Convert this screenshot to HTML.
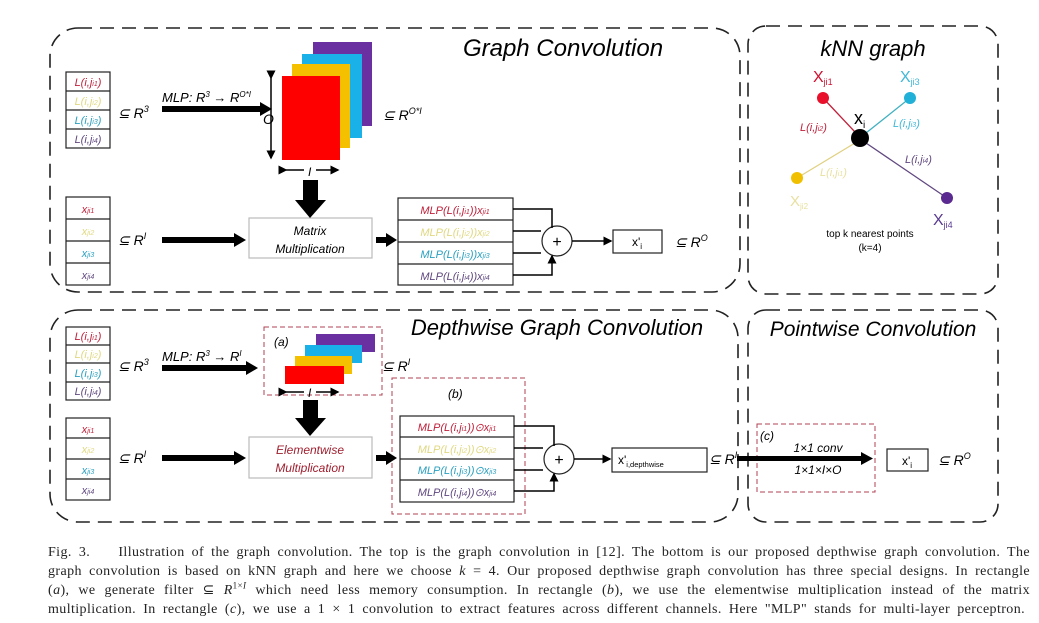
<!DOCTYPE html>
<html><head><meta charset="utf-8"><style>
body{margin:0;background:#fff;width:1039px;height:623px;overflow:hidden;position:relative;font-family:"Liberation Sans",sans-serif}
svg{position:absolute;left:0;top:0}
.cap{position:absolute;left:48px;top:543px;width:982px;font-family:"Liberation Serif",serif;font-size:14px;letter-spacing:0.4px;line-height:19px;color:#222;white-space:nowrap}
.cap div{text-align:justify;text-align-last:justify}
.cap div.l{width:977px}
</style></head><body>
<svg width="1039" height="623" font-family="Liberation Sans, sans-serif" font-style="italic">
<defs><marker id="sh" markerWidth="6" markerHeight="6" refX="5" refY="3" orient="auto"><path d="M0,0L6,3L0,6z" fill="#000"/></marker></defs>
<g fill="none" stroke="#222" stroke-width="1.6" stroke-dasharray="14,8">
<rect x="50" y="28" width="690" height="264" rx="28"/>
<rect x="748" y="26" width="250" height="268" rx="18"/>
<rect x="50" y="310" width="688" height="212" rx="28"/>
<rect x="748" y="310" width="250" height="212" rx="18"/>
</g>
<text x="563" y="56" font-size="24" text-anchor="middle">Graph Convolution</text>
<text x="873" y="56" font-size="22" text-anchor="middle">kNN graph</text>
<text x="557" y="335" font-size="22" text-anchor="middle">Depthwise Graph Convolution</text>
<text x="873" y="336" font-size="21" text-anchor="middle">Pointwise Convolution</text>
<g stroke="#222" stroke-width="1.2" fill="none">
<rect x="66" y="72" width="44" height="76"/><line x1="66" y1="91" x2="110" y2="91"/><line x1="66" y1="110" x2="110" y2="110"/><line x1="66" y1="129" x2="110" y2="129"/>
<rect x="66" y="197" width="44" height="88"/><line x1="66" y1="219" x2="110" y2="219"/><line x1="66" y1="241" x2="110" y2="241"/><line x1="66" y1="263" x2="110" y2="263"/>
<rect x="249" y="218" width="123" height="40" stroke="#bbb"/>
<rect x="398" y="198" width="115" height="87"/><line x1="398" y1="220" x2="513" y2="220"/><line x1="398" y1="242" x2="513" y2="242"/><line x1="398" y1="264" x2="513" y2="264"/>
<circle cx="557" cy="241" r="15"/>
<rect x="613" y="230" width="49" height="23"/>
</g>
<g font-size="11" text-anchor="middle">
<text x="88" y="86" fill="#c0203a">L(i,j<tspan font-size="7">i1</tspan>)</text>
<text x="88" y="105" fill="#e0d880">L(i,j<tspan font-size="7">i2</tspan>)</text>
<text x="88" y="124" fill="#2aa0c0">L(i,j<tspan font-size="7">i3</tspan>)</text>
<text x="88" y="143" fill="#604880">L(i,j<tspan font-size="7">i4</tspan>)</text>
<text x="88" y="213" fill="#c0203a">x<tspan font-size="7">ji1</tspan></text>
<text x="88" y="235" fill="#e0d880">x<tspan font-size="7">ji2</tspan></text>
<text x="88" y="257" fill="#2aa0c0">x<tspan font-size="7">ji3</tspan></text>
<text x="88" y="279" fill="#604880">x<tspan font-size="7">ji4</tspan></text>
<text x="455" y="214" fill="#c0203a">MLP(L(i,j<tspan font-size="7">i1</tspan>))x<tspan font-size="7">ji1</tspan></text>
<text x="455" y="236" fill="#e0d880">MLP(L(i,j<tspan font-size="7">i2</tspan>))x<tspan font-size="7">ji2</tspan></text>
<text x="455" y="258" fill="#2aa0c0">MLP(L(i,j<tspan font-size="7">i3</tspan>))x<tspan font-size="7">ji3</tspan></text>
<text x="455" y="280" fill="#604880">MLP(L(i,j<tspan font-size="7">i4</tspan>))x<tspan font-size="7">ji4</tspan></text>
<text x="310" y="235" font-size="12">Matrix</text>
<text x="310" y="253" font-size="12">Multiplication</text>
</g>
<g font-size="14">
<text x="118" y="118">⊆ R<tspan font-size="9" dy="-6">3</tspan></text>
<text x="118" y="245">⊆ R<tspan font-size="9" dy="-6">I</tspan></text>
<text x="383" y="120">⊆ R<tspan font-size="9" dy="-6">O*I</tspan></text>
<text x="675" y="247">⊆ R<tspan font-size="9" dy="-6">O</tspan></text>
<text x="162" y="102" font-size="13">MLP: R<tspan font-size="8" dy="-5">3</tspan><tspan dy="5"> → R</tspan><tspan font-size="8" dy="-5">O*I</tspan></text>
<text x="263" y="124">O</text>
<text x="308" y="176" font-size="12">I</text>
<text x="637" y="246" font-size="12" text-anchor="middle" font-style="normal">x'<tspan font-size="8" dy="3">i</tspan></text>
</g>
<rect x="313" y="42" width="59" height="84" fill="#6a2fa0"/>
<rect x="302" y="54" width="60" height="84" fill="#1ab0e8"/>
<rect x="292" y="64" width="58" height="84" fill="#f5c000"/>
<rect x="282" y="76" width="58" height="84" fill="#ff0000"/>
<g stroke="#000" stroke-width="1.5" fill="none">
<line x1="271" y1="78" x2="271" y2="158" marker-start="url(#sh)" marker-end="url(#sh)"/>
<line x1="286" y1="170" x2="304" y2="170" marker-start="url(#sh)"/><line x1="316" y1="170" x2="338" y2="170" marker-end="url(#sh)"/>
<path d="M513,209H552V228M513,231H541M513,253H541M513,275H552V256" marker-end="url(#sh)"/>
<line x1="572" y1="241" x2="611" y2="241" marker-end="url(#sh)"/>
</g>
<text x="557" y="247" font-size="16" text-anchor="middle" font-style="normal">+</text>
<g fill="#000">
<rect x="162" y="106" width="100" height="6"/><path d="M260,102L272,109L260,116z"/>
<rect x="162" y="237" width="74" height="6"/><path d="M234,233L246,240L234,247z"/>
<rect x="376" y="237" width="12" height="6"/><path d="M386,233L397,240L386,247z"/>
<rect x="303" y="180" width="15" height="22"/><path d="M295,200H326L310,218z"/>
</g>
<g stroke-width="1.3">
<line x1="823" y1="98" x2="855" y2="132" stroke="#c0203a"/>
<line x1="910" y1="98" x2="866" y2="133" stroke="#40b0c0"/>
<line x1="797" y1="178" x2="855" y2="143" stroke="#e0d080"/>
<line x1="947" y1="198" x2="866" y2="143" stroke="#604880"/>
</g>
<circle cx="823" cy="98" r="6" fill="#e8102a"/>
<circle cx="910" cy="98" r="6" fill="#20b0d8"/>
<circle cx="797" cy="178" r="6" fill="#f0c000"/>
<circle cx="947" cy="198" r="6" fill="#5a2a90"/>
<circle cx="860" cy="138" r="9" fill="#000"/>
<g font-style="normal">
<text x="813" y="82" font-size="16" fill="#d01030">X<tspan font-size="9" dy="3">ji1</tspan></text>
<text x="900" y="82" font-size="16" fill="#40b8d8">X<tspan font-size="9" dy="3">ji3</tspan></text>
<text x="854" y="124" font-size="18" fill="#000">x<tspan font-size="10" dy="4">i</tspan></text>
<text x="790" y="206" font-size="15" fill="#e8e0a0">X<tspan font-size="8" dy="3">ji2</tspan></text>
<text x="933" y="225" font-size="16" fill="#5a3a90">X<tspan font-size="9" dy="3">ji4</tspan></text>
<text x="870" y="237" font-size="10" text-anchor="middle">top k nearest points</text>
<text x="870" y="251" font-size="10" text-anchor="middle">(k=4)</text>
</g>
<g font-size="11">
<text x="800" y="131" fill="#c0203a">L(i,j<tspan font-size="7">i2</tspan>)</text>
<text x="893" y="127" fill="#40b8d8">L(i,j<tspan font-size="7">i3</tspan>)</text>
<text x="905" y="163" fill="#604880">L(i,j<tspan font-size="7">i4</tspan>)</text>
<text x="820" y="176" fill="#e8e0a0">L(i,j<tspan font-size="7">i1</tspan>)</text>
</g>
<g stroke="#222" stroke-width="1.2" fill="none">
<rect x="66" y="327" width="44" height="73"/><line x1="66" y1="345" x2="110" y2="345"/><line x1="66" y1="363" x2="110" y2="363"/><line x1="66" y1="382" x2="110" y2="382"/>
<rect x="66" y="418" width="44" height="82"/><line x1="66" y1="438" x2="110" y2="438"/><line x1="66" y1="459" x2="110" y2="459"/><line x1="66" y1="479" x2="110" y2="479"/>
<rect x="249" y="437" width="123" height="41" stroke="#bbb"/>
<rect x="400" y="416" width="114" height="86"/><line x1="400" y1="437" x2="514" y2="437"/><line x1="400" y1="459" x2="514" y2="459"/><line x1="400" y1="480" x2="514" y2="480"/>
<circle cx="559" cy="459" r="15"/>
<rect x="612" y="448" width="95" height="24"/>
<rect x="887" y="449" width="41" height="22"/>
</g>
<g fill="none" stroke="#b04050" stroke-width="1" stroke-dasharray="5,3">
<rect x="264" y="327" width="118" height="68"/>
<rect x="392" y="378" width="133" height="136"/>
<rect x="757" y="424" width="118" height="68"/>
</g>
<g font-size="11" text-anchor="middle">
<text x="88" y="340" fill="#c0203a">L(i,j<tspan font-size="7">i1</tspan>)</text>
<text x="88" y="358" fill="#e0d880">L(i,j<tspan font-size="7">i2</tspan>)</text>
<text x="88" y="377" fill="#2aa0c0">L(i,j<tspan font-size="7">i3</tspan>)</text>
<text x="88" y="395" fill="#604880">L(i,j<tspan font-size="7">i4</tspan>)</text>
<text x="88" y="433" fill="#c0203a">x<tspan font-size="7">ji1</tspan></text>
<text x="88" y="453" fill="#e0d880">x<tspan font-size="7">ji2</tspan></text>
<text x="88" y="474" fill="#2aa0c0">x<tspan font-size="7">ji3</tspan></text>
<text x="88" y="494" fill="#604880">x<tspan font-size="7">ji4</tspan></text>
<text x="457" y="431" fill="#c0203a">MLP(L(i,j<tspan font-size="7">i1</tspan>))⊙x<tspan font-size="7">ji1</tspan></text>
<text x="457" y="453" fill="#e0d880">MLP(L(i,j<tspan font-size="7">i2</tspan>))⊙x<tspan font-size="7">ji2</tspan></text>
<text x="457" y="474" fill="#2aa0c0">MLP(L(i,j<tspan font-size="7">i3</tspan>))⊙x<tspan font-size="7">ji3</tspan></text>
<text x="457" y="496" fill="#604880">MLP(L(i,j<tspan font-size="7">i4</tspan>))⊙x<tspan font-size="7">ji4</tspan></text>
<text x="310" y="454" font-size="12" fill="#a02030">Elementwise</text>
<text x="310" y="472" font-size="12" fill="#a02030">Multiplication</text>
<text x="818" y="452" font-size="12">1×1 conv</text>
<text x="818" y="474" font-size="12">1×1×I×O</text>
</g>
<g font-size="14">
<text x="118" y="371">⊆ R<tspan font-size="9" dy="-6">3</tspan></text>
<text x="118" y="463">⊆ R<tspan font-size="9" dy="-6">I</tspan></text>
<text x="382" y="371">⊆ R<tspan font-size="9" dy="-6">I</tspan></text>
<text x="709" y="464">⊆ R<tspan font-size="9" dy="-6">I</tspan></text>
<text x="938" y="465">⊆ R<tspan font-size="9" dy="-6">O</tspan></text>
<text x="162" y="361" font-size="13">MLP: R<tspan font-size="8" dy="-5">3</tspan><tspan dy="5"> → R</tspan><tspan font-size="8" dy="-5">I</tspan></text>
<text x="274" y="346" font-size="12">(a)</text>
<text x="448" y="398" font-size="12">(b)</text>
<text x="760" y="440" font-size="12">(c)</text>
<text x="308" y="397" font-size="12">I</text>
<text x="618" y="464" font-size="12" font-style="normal">x'<tspan font-size="7.5" dy="3">i,depthwise</tspan></text>
<text x="907" y="465" font-size="12" text-anchor="middle" font-style="normal">x'<tspan font-size="8" dy="3">i</tspan></text>
</g>
<rect x="316" y="334" width="59" height="18" fill="#6a2fa0"/>
<rect x="305" y="345" width="57" height="18" fill="#1ab0e8"/>
<rect x="295" y="356" width="57" height="18" fill="#f5c000"/>
<rect x="285" y="366" width="59" height="18" fill="#ff0000"/>
<g stroke="#000" stroke-width="1.5" fill="none">
<line x1="286" y1="392" x2="304" y2="392" marker-start="url(#sh)"/><line x1="316" y1="392" x2="338" y2="392" marker-end="url(#sh)"/>
<path d="M514,426H554V446M514,448H543M514,470H543M514,491H554V474" marker-end="url(#sh)"/>
<line x1="574" y1="459" x2="610" y2="459" marker-end="url(#sh)"/>
</g>
<text x="559" y="465" font-size="16" text-anchor="middle" font-style="normal">+</text>
<g fill="#000">
<rect x="162" y="365" width="86" height="6"/><path d="M246,361L258,368L246,375z"/>
<rect x="162" y="455" width="74" height="6"/><path d="M234,451L246,458L234,465z"/>
<rect x="376" y="455" width="12" height="6"/><path d="M386,451L397,458L386,465z"/>
<rect x="303" y="400" width="15" height="20"/><path d="M295,418H326L310,436z"/>
<rect x="737" y="456" width="126" height="5"/><path d="M861,452L873,458.5L861,465z"/>
</g>
</svg>
<div class="cap">
<div>Fig. 3.&nbsp;&nbsp;&nbsp; Illustration of the graph convolution. The top is the graph convolution in [12]. The bottom is our proposed depthwise graph convolution. The</div>
<div>graph convolution is based on kNN graph and here we choose <i>k</i> = 4. Our proposed depthwise graph convolution has three special designs. In rectangle</div>
<div>(<i>a</i>), we generate filter ⊆ <i>R</i><sup style="font-size:9px;line-height:0">1×<i>I</i></sup> which need less memory consumption. In rectangle (<i>b</i>), we use the elementwise multiplication instead of the matrix</div>
<div class="l">multiplication. In rectangle (<i>c</i>), we use a 1 × 1 convolution to extract features across different channels. Here "MLP" stands for multi-layer perceptron.</div>
</div>
</body></html>
